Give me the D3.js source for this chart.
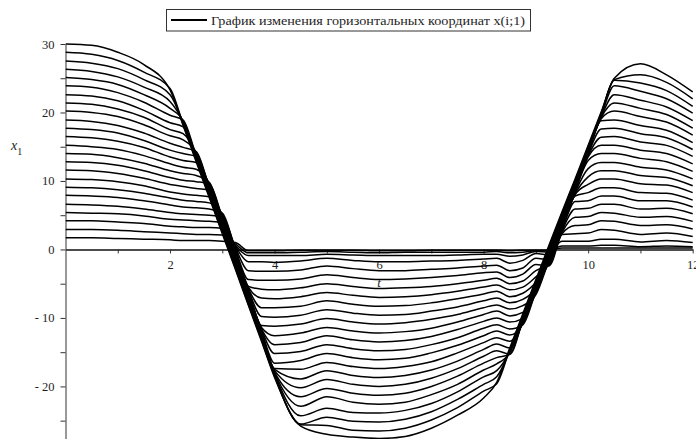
<!DOCTYPE html>
<html>
<head>
<meta charset="utf-8">
<script src="https://cdnjs.cloudflare.com/ajax/libs/d3/7.8.5/d3.min.js"></script>
<style>
  html, body { margin: 0; padding: 0; background: #fff; }
  svg { display: block; }
  text { font-family: "Liberation Serif", "Times New Roman", serif; fill: #1e1e1e; }
</style>
</head>
<body>
<svg id="chart" width="696" height="439"></svg>
<script>
// time samples shared by every node trace
const tGrid = [0, 0.5, 1, 1.5, 2, 2.25, 2.5, 2.75, 3, 3.25, 3.5, 3.75, 4, 4.5, 5, 5.5, 6, 6.5, 7, 7.5, 8, 8.25, 8.5, 8.75, 9, 9.25, 9.5, 9.75, 10, 10.25, 10.5, 11, 11.5, 12];

// horizontal coordinate x(i;1) of each node, one array per node
const x01 = [1.7,1.7,1.6,1.5,1.4,1.3,1.3,1.3,1.2, 1.0, -0.2,-0.2,-0.2,-0.1,-0.1,-0.1,-0.2,-0.2,-0.1,-0.1,-0.1,-0.1,-0.2,-0.1,-0.1, -0.1, 0.2,0.2,0.2,0.2,0.2,0.2,0.2,0.2];
const x02 = [2.9,2.9,2.8,2.6,2.4,2.3,2.2,2.2,2.1, 0.8, -0.5,-0.5,-0.5,-0.4,-0.3,-0.4,-0.5,-0.4,-0.4,-0.4,-0.4,-0.3,-0.5,-0.4,-0.2, -0.2, 0.5,0.5,0.5,0.6,0.6,0.4,0.5,0.4];
const x03 = [4.2,4.2,4.0,3.8,3.4,3.3,3.2,3.2,3.1, 0.6, -0.9,-0.9,-0.9,-0.9,-0.7,-0.8,-0.9,-0.9,-0.9,-0.8,-0.7,-0.7,-1.0,-0.8,-0.3, -0.4, 1.2,1.2,1.2,1.5,1.5,1.1,1.3,1.0];
const x04 = [5.4,5.3,5.2,4.9,4.4,4.3,4.2,4.1,3.9, 0.5, -1.8,-1.8,-1.9,-1.7,-1.3,-1.6,-1.8,-1.8,-1.7,-1.6,-1.4,-1.3,-2.0,-1.6,-0.6, -0.8, 2.2,2.3,2.4,2.9,2.8,2.2,2.4,1.9];
const x05 = [6.6,6.5,6.3,5.9,5.4,5.2,5.1,5.0,4.8, 0.3, -3.1,-3.2,-3.2,-3.0,-2.4,-2.8,-3.1,-3.1,-2.9,-2.7,-2.4,-2.3,-3.1,-2.7,-1.3, -1.5, 2.3,3.5,3.6,4.2,4.1,3.5,3.6,3.0];
const x06 = [7.9,7.8,7.6,7.1,6.5,6.2,6.1,5.9,5.3, 0.1, -4.4,-4.5,-4.5,-4.3,-3.7,-4.1,-4.4,-4.3,-4.1,-3.8,-3.4,-3.3,-4.1,-3.6,-2.2, -2.4, 2.5,4.7,4.8,5.4,5.3,4.7,4.8,4.1];
const x07 = [9.1,9.0,8.7,8.2,7.5,7.2,7.0,6.8,5.2, -0.1, -5.4,-5.8,-5.9,-5.6,-5.0,-5.4,-5.7,-5.6,-5.4,-5.0,-4.5,-4.2,-5.0,-4.6,-3.1, -2.3, 2.7,5.9,6.0,6.6,6.6,5.9,6.0,5.2];
const x08 = [10.3,10.2,9.9,9.3,8.4,8.1,7.9,7.7,5.0, -0.2, -5.5,-7.1,-7.2,-6.9,-6.3,-6.7,-7.0,-6.9,-6.6,-6.1,-5.5,-5.2,-5.9,-5.5,-4.0, -2.1, 2.8,7.0,7.1,7.8,7.8,7.1,7.1,6.2];
const x09 = [11.6,11.5,11.1,10.4,9.5,9.2,8.9,8.7,4.8, -0.4, -5.7,-8.5,-8.5,-8.3,-7.5,-8.0,-8.3,-8.2,-7.8,-7.2,-6.5,-6.1,-6.9,-6.4,-4.8, -1.9, 3.0,7.8,8.3,9.0,9.0,8.3,8.2,7.2];
const x10 = [12.8,12.7,12.3,11.5,10.5,10.1,9.9,9.6,4.7, -0.6, -5.9,-9.8,-9.9,-9.6,-8.8,-9.3,-9.6,-9.5,-9.0,-8.4,-7.5,-7.1,-7.8,-7.3,-5.7, -1.8, 3.2,8.0,9.5,10.3,10.3,9.6,9.4,8.3];
const x11 = [14.0,13.9,13.4,12.6,11.5,11.1,10.8,9.8,4.5, -0.7, -6.0,-11.1,-11.2,-10.9,-10.1,-10.6,-10.9,-10.7,-10.2,-9.5,-8.5,-8.1,-8.7,-8.2,-6.6, -1.6, 3.3,8.1,10.6,11.5,11.5,10.8,10.5,9.3];
const x12 = [15.2,15.0,14.6,13.7,12.5,12.0,11.7,9.6,4.3, -0.9, -6.2,-11.4,-12.6,-12.2,-11.4,-11.9,-12.2,-12.0,-11.5,-10.6,-9.5,-9.0,-9.7,-9.2,-6.4, -1.4, 3.5,8.3,11.8,12.7,12.7,12.0,11.6,10.3];
const x13 = [16.5,16.3,15.8,14.9,13.5,13.0,12.7,9.5,4.2, -1.1, -6.4,-11.6,-13.9,-13.6,-12.6,-13.2,-13.5,-13.3,-12.7,-11.7,-10.5,-10.0,-10.6,-10.1,-6.3, -1.3, 3.7,8.5,13.0,14.0,14.0,13.3,12.8,11.4];
const x14 = [17.7,17.5,17.0,15.9,14.5,14.0,13.6,9.3,4.0, -1.2, -6.5,-11.7,-15.2,-14.9,-13.9,-14.5,-14.8,-14.6,-13.9,-12.9,-11.5,-11.0,-11.6,-11.0,-6.1, -1.1, 3.8,8.6,13.5,15.2,15.2,14.5,14.0,12.5];
const x15 = [18.9,18.7,18.1,17.0,15.5,14.9,14.3,9.1,3.8, -1.4, -6.7,-11.9,-16.6,-16.2,-15.2,-15.8,-16.1,-15.9,-15.1,-14.0,-12.6,-11.9,-12.5,-10.9,-5.9, -0.9, 4.0,8.8,13.7,16.4,16.5,15.7,15.2,13.6];
const x16 = [20.2,20.0,19.4,18.2,16.6,16.0,14.2,9.0,3.7, -1.6, -6.9,-12.1,-17.4,-17.5,-16.5,-17.1,-17.4,-17.1,-16.4,-15.1,-13.6,-12.9,-13.4,-10.8,-5.8, -0.8, 4.2,9.0,13.9,17.6,17.7,16.9,16.3,14.6];
const x17 = [21.4,21.2,20.5,19.3,17.5,16.9,14.0,8.8,3.5, -1.7, -7.0,-12.2,-17.5,-18.9,-17.7,-18.4,-18.7,-18.4,-17.6,-16.3,-14.6,-13.8,-14.4,-10.6,-5.6, -0.6, 4.3,9.1,14.0,18.8,18.9,18.1,17.4,15.6];
const x18 = [22.6,22.4,21.7,20.3,18.5,17.9,13.8,8.6,3.3, -1.9, -7.2,-12.4,-17.7,-20.2,-19.0,-19.7,-20.0,-19.7,-18.8,-17.4,-15.6,-14.8,-15.3,-10.4,-5.4, -0.4, 4.5,9.3,14.2,19.1,20.2,19.4,18.6,16.7];
const x19 = [23.9,23.7,22.9,21.5,19.6,18.9,13.7,8.5,3.2, -2.1, -7.4,-12.6,-17.9,-21.5,-20.3,-21.0,-21.3,-21.0,-20.0,-18.5,-16.6,-15.8,-15.3,-10.3,-5.3, -0.3, 4.7,9.5,14.4,19.3,21.4,20.6,19.7,17.7];
const x20 = [25.1,24.8,24.1,22.6,20.6,18.8,13.5,8.3,3.0, -2.2, -7.5,-12.7,-18.0,-22.9,-21.5,-22.3,-22.6,-22.3,-21.2,-19.7,-17.6,-16.7,-15.1,-10.1,-5.1, -0.1, 4.8,9.6,14.5,19.4,22.6,21.8,20.8,18.8];
const x21 = [26.3,26.0,25.2,23.7,21.6,18.6,13.3,8.1,2.8, -2.4, -7.7,-12.9,-18.2,-24.3,-23.2,-23.8,-23.9,-23.5,-22.5,-20.8,-18.6,-17.7,-14.9,-9.9,-4.9, 0.1, 5.0,9.8,14.7,19.6,23.9,23.1,22.0,19.9];
const x22 = [27.5,27.2,26.4,24.8,22.6,18.5,13.2,8.0,2.7, -2.6, -7.9,-13.1,-18.4,-25.5,-24.5,-25.1,-25.2,-24.8,-23.7,-21.9,-19.7,-18.6,-14.8,-9.8,-4.8, 0.3, 5.2,10.0,14.9,19.8,24.7,24.3,23.2,20.9];
const x23 = [28.8,28.5,27.6,25.9,23.5,18.3,13.0,7.8,2.5, -2.7, -8.0,-13.2,-18.5,-25.6,-25.7,-26.4,-26.5,-26.1,-24.9,-23.1,-20.7,-19.6,-14.6,-9.6,-4.6, 0.4, 5.3,10.1,15.0,19.9,24.8,25.5,24.4,22.0];
const x24 = [30.0,29.8,28.8,27.0,23.3,18.1,12.8,7.6,2.3, -2.9, -8.2,-13.4,-18.7,-25.8,-27.0,-27.4,-27.6,-27.3,-26.1,-24.2,-21.7,-19.4,-14.4,-9.4,-4.4, 0.6, 5.5,10.3,15.2,20.1,25.0,27.1,25.5,23.0];

const seriesList = [x01, x02, x03, x04, x05, x06, x07, x08, x09, x10, x11, x12,
                    x13, x14, x15, x16, x17, x18, x19, x20, x21, x22, x23, x24];

// axis ticks
const xTicks = [1, 2, 3, 4, 5, 6, 7, 8, 9, 10, 11, 12];
const xLabelledTicks = [2, 4, 6, 8, 10, 12];
const yTicks = [-25, -20, -15, -10, -5, 0, 5, 10, 15, 20, 25, 30];
const yLabelledTicks = [-20, -10, 0, 10, 20, 30];

const legendLabel = "График изменения горизонтальных координат x(i;1)";
const xTitle = "t";
const yTitle = "x";
const yTitleSub = "1";

const svg = d3.select("#chart");
const FONT = "'Liberation Serif', 'Times New Roman', serif";

const x = d3.scaleLinear().domain([0, 12]).range([65.5, 692.7]);
const y = d3.scaleLinear().domain([-28, 30]).range([441.2, 44]);

// clip region for the traces
svg.append("defs").append("clipPath").attr("id", "plotClip")
  .append("rect")
  .attr("x", x(0)).attr("y", 0)
  .attr("width", x(12) - x(0) + 1).attr("height", 439);

// x axis through zero
const gx = svg.append("g")
  .attr("transform", `translate(0,${y(0)})`)
  .call(d3.axisBottom(x)
    .tickValues(xTicks)
    .tickSize(4)
    .tickSizeOuter(0)
    .tickPadding(7)
    .tickFormat(d => xLabelledTicks.includes(d) ? String(d) : ""));
gx.attr("font-family", FONT).attr("font-size", 12.5);
gx.select(".domain").attr("stroke", "#111").attr("stroke-width", 1.6);
gx.selectAll(".tick line").attr("stroke", "#333").attr("stroke-width", 1);
gx.selectAll(".tick text").attr("fill", "#1e1e1e");

// y axis at t = 0
const gy = svg.append("g")
  .attr("transform", `translate(${x(0)},0)`)
  .call(d3.axisLeft(y)
    .tickValues(yTicks)
    .tickSize(5)
    .tickSizeOuter(0)
    .tickPadding(6)
    .tickFormat(d => yLabelledTicks.includes(d) ? (d < 0 ? "- " + (-d) : String(d)) : ""));
gy.attr("font-family", FONT).attr("font-size", 12.5);
gy.select(".domain").attr("stroke", "#333").attr("stroke-width", 1);
gy.selectAll(".tick line").attr("stroke", "#333").attr("stroke-width", 1);
gy.selectAll(".tick text").attr("fill", "#1e1e1e");

// node traces
const line = d3.line()
  .x((d, i) => x(tGrid[i]))
  .y(d => y(d))
  .curve(d3.curveMonotoneX);

svg.append("g")
  .attr("clip-path", "url(#plotClip)")
  .selectAll("path")
  .data(seriesList)
  .join("path")
  .attr("d", line)
  .attr("fill", "none")
  .attr("stroke", "#000")
  .attr("stroke-width", 1.5)
  .attr("stroke-linejoin", "round");

// axis titles
svg.append("text")
  .attr("x", x(6)).attr("y", 287)
  .attr("text-anchor", "middle")
  .attr("font-size", 13)
  .attr("font-style", "italic")
  .text(xTitle);

const yt = svg.append("text")
  .attr("x", 11).attr("y", 150)
  .attr("font-size", 14);
yt.append("tspan").attr("font-style", "italic").text(yTitle);
yt.append("tspan").attr("font-size", 10).attr("dy", 5).text(yTitleSub);

// legend
const lg = svg.append("g");
lg.append("rect")
  .attr("x", 166.5).attr("y", 9.5)
  .attr("width", 364).attr("height", 21.5)
  .attr("fill", "#fff")
  .attr("stroke", "#333")
  .attr("stroke-width", 1);
lg.append("line")
  .attr("x1", 171).attr("x2", 207)
  .attr("y1", 20).attr("y2", 20)
  .attr("stroke", "#000")
  .attr("stroke-width", 2);
lg.append("text")
  .attr("x", 211).attr("y", 25)
  .attr("font-size", 13)
  .attr("textLength", 314)
  .attr("lengthAdjust", "spacingAndGlyphs")
  .text(legendLabel);
</script>
</body>
</html>
